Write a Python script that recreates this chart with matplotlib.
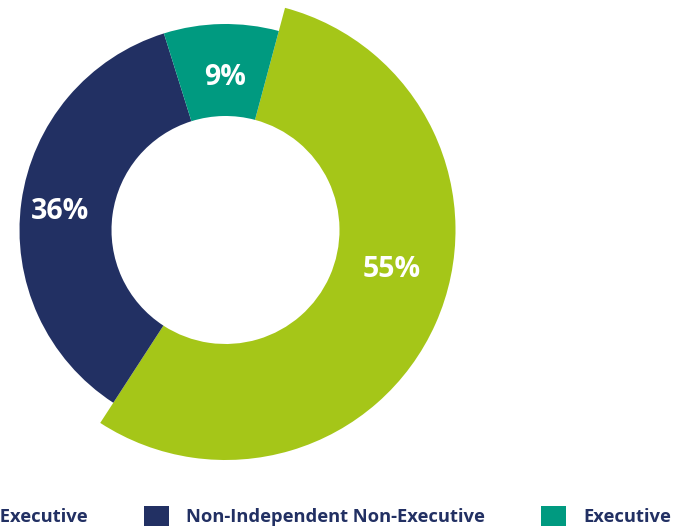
import numpy as np
import matplotlib
matplotlib.use('Agg')
from matplotlib import pyplot as plt
from matplotlib.patches import Patch

labels = ['Independent Non-Executive', 'Non-Independent Non-Executive', 'Executive']
values = [55, 36, 9]
colors = ['#A5C618', '#223063', '#009A80']

# label placement (angle in deg, radius as fraction of outer radius)
lbl_ang = [-13.5, 173.7, 90]
lbl_rad = [0.83, 0.81, 0.74]

plt.rcParams['font.family'] = ['Open Sans', 'DejaVu Sans']

W, H = 674, 527
fig = plt.figure(figsize=(W / 100, H / 100), dpi=100)
ax = fig.add_axes([0, 0, 1, 1])

r_out = 206.0
r_in = 114.0
r_big = 230.0
cx, cy = 225.5, 230.0

wedges, _ = ax.pie(values, colors=colors, startangle=75, counterclock=False,
                   radius=1.0, wedgeprops=dict(width=1 - r_in / r_out, linewidth=0))
# first slice sticks out
wedges[0].set_radius(r_big / r_out)
wedges[0].set_width((r_big - r_in) / r_out)

for v, a, r in zip(values, lbl_ang, lbl_rad):
    t = np.deg2rad(a)
    ax.text(r * np.cos(t), r * np.sin(t), f'{v}%', color='white', fontsize=20.5,
            fontweight='bold', ha='center', va='center')

ax.set_xlim(-cx / r_out, (W - cx) / r_out)
ax.set_ylim(-(H - cy) / r_out, cy / r_out)
ax.set_aspect('equal', adjustable='box')
ax.axis('off')

handles = [Patch(facecolor=c, edgecolor='none') for c in colors]
leg = fig.legend(handles, labels, loc='center', ncol=3, frameon=False,
                 bbox_to_anchor=(231 / W, 1 - 516 / H),
                 prop=dict(weight='bold', size=13.2), labelcolor='#223063',
                 handlelength=1.35, handleheight=1.35, handletextpad=0.95,
                 columnspacing=3.05)

fig.savefig('out.png', dpi=100)
